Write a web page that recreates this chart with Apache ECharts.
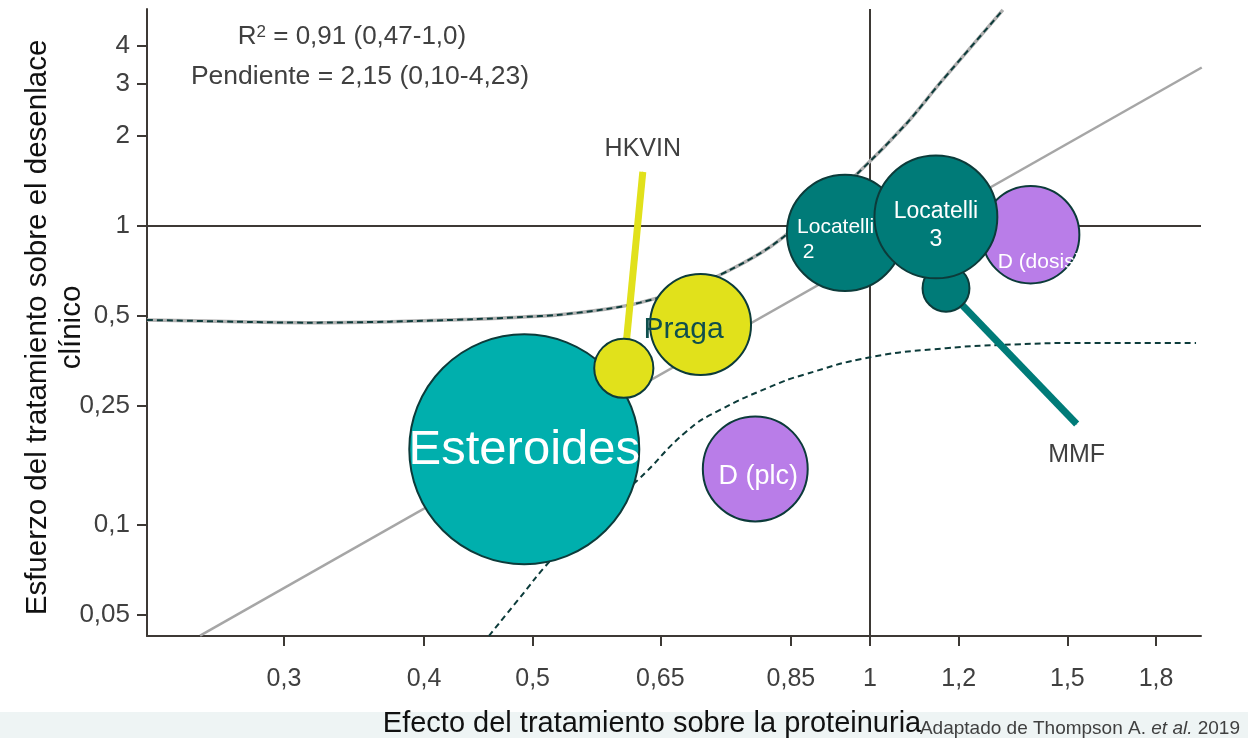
<!DOCTYPE html>
<html>
<head>
<meta charset="utf-8">
<title>Proteinuria vs desenlace clínico</title>
<script src="https://cdn.jsdelivr.net/npm/echarts@6/dist/echarts.min.js"></script>
<style>
    html, body { margin: 0; padding: 0; background: #fff; }
    #chart { width: 1248px; height: 738px; }
</style>
</head>
<body>
<div id="chart"></div>
<script>
// log axes, labelled like the slide (comma decimals)
const xTicks = [0.3, 0.4, 0.5, 0.65, 0.85, 1, 1.2, 1.5, 1.8];
const xTickLabels = ['0,3', '0,4', '0,5', '0,65', '0,85', '1', '1,2', '1,5', '1,8'];
const yTicks = [0.05, 0.1, 0.25, 0.5, 1, 2, 3, 4];
const yTickLabels = ['0,05', '0,1', '0,25', '0,5', '1', '2', '3', '4'];
const xRange = [0.2264, 1.974];
const yRange = [0.04246, 5.32];

// trials: effect on proteinuria (x), effect on clinical outcome (y), weight
const trialNames = ['Esteroides', 'HKVIN', 'Praga', 'D (plc)', 'D (dosis)', 'MMF', 'Locatelli 2', 'Locatelli 3'];
const trialX = [0.4915, 0.603, 0.706, 0.790, 1.391, 1.169, 0.950, 1.145];
const trialY = [0.179, 0.334, 0.468, 0.1538, 0.935, 0.619, 0.948, 1.072];
const trialWeight = [529, 35, 102, 110, 95, 22, 135, 151];
const trialKind = ['steroid', 'yellow', 'yellow', 'purple', 'purple', 'teal', 'teal', 'teal'];
const trialLabels = ['Esteroides', '', 'Praga', 'D (plc)', 'D (dosis)', '', 'Locatelli\n 2', 'Locatelli\n3'];

// regression line and its band
const regLine = [[0.2525, 0.0426], [1.977, 3.39]];
const upperBand = [
    [0.2264, 0.4847], [0.2797, 0.4773], [0.3145, 0.4747], [0.373, 0.4784],
    [0.4423, 0.4873], [0.4902, 0.4961], [0.5257, 0.5037], [0.5825, 0.5276],
    [0.6234, 0.5538], [0.6909, 0.6202], [0.75, 0.7125], [0.8143, 0.8506],
    [0.884, 1.088], [0.9756, 1.504], [1.079, 2.211], [1.155, 3.009], [1.314, 5.28]
];
const lowerBand = [
    [0.4571, 0.04248], [0.4852, 0.05605], [0.5192, 0.07628], [0.5625, 0.1038],
    [0.6192, 0.1402], [0.6866, 0.2061], [0.7348, 0.2423], [0.8143, 0.2893],
    [0.8714, 0.3173], [1.004, 0.3645], [1.169, 0.3898], [1.306, 0.3998],
    [1.568, 0.406], [1.954, 0.406]
];
const hkvinLine = [[0.603, 0.334], [0.627, 1.516]];
const mmfLine = [[1.169, 0.619], [1.529, 0.2175]];
const refX = 1;
const refY = 1;

const font = "'Liberation Sans', Arial, sans-serif";
const axisColor = '#3d3935';
const textColor = '#404040';
const borderColor = '#0c3b3a';
const kindColor = {steroid: '#00afad', yellow: '#e1e11b', purple: '#b97de8', teal: '#007b78'};
const labelStyle = {
    'Esteroides': {fontSize: 49, color: '#fff', offset: [0, 1]},
    'Praga': {fontSize: 30, color: '#0f4f4d', offset: [-17, 5]},
    'D (plc)': {fontSize: 27, color: '#fff', offset: [3, 8]},
    'D (dosis)': {fontSize: 21, color: '#fff', align: 'left', offset: [-33, 28]},
    'Locatelli 2': {fontSize: 21, color: '#fff', align: 'left', offset: [-48, 7], lineHeight: 25},
    'Locatelli 3': {fontSize: 23, color: '#fff', offset: [0, 9], lineHeight: 28}
};

const ln = Math.log;
const pt = (p) => [ln(p[0]), ln(p[1])];

function tickLabel(ticks, labels, v) {
    const i = ticks.findIndex((t) => Math.abs(ln(t) - v) < 1e-6);
    return i < 0 ? '' : labels[i];
}

function bubbles(filter) {
    return trialNames.map((name, i) => {
        if (!filter(name)) return null;
        const st = labelStyle[name];
        return {
            name,
            value: [ln(trialX[i]), ln(trialY[i]), trialWeight[i]],
            itemStyle: {color: kindColor[trialKind[i]]},
            label: st ? Object.assign({
                show: true,
                position: 'inside',
                formatter: trialLabels[i],
                fontFamily: font
            }, st) : {show: false}
        };
    }).filter(Boolean);
}

const isLocatelli = (n) => n.indexOf('Locatelli') === 0;

const chart = echarts.init(document.getElementById('chart'), null, {renderer: 'canvas'});

chart.setOption({
    animation: false,
    grid: {left: 147, right: 47, top: 9, bottom: 102, outerBoundsMode: 'none'},
    xAxis: {
        type: 'value',
        min: ln(xRange[0]),
        max: ln(xRange[1]),
        axisLine: {onZero: false, lineStyle: {color: axisColor, width: 2}},
        axisTick: {show: true, length: 10, customValues: xTicks.map(ln), lineStyle: {color: axisColor, width: 2}},
        axisLabel: {
            customValues: xTicks.map(ln),
            formatter: (v) => tickLabel(xTicks, xTickLabels, v),
            color: textColor, fontSize: 25, fontFamily: font, margin: 31
        },
        splitLine: {show: false},
        name: 'Efecto del tratamiento sobre la proteinuria',
        nameLocation: 'middle',
        nameGap: 73,
        nameMoveOverlap: false,
        nameTextStyle: {color: '#111', fontSize: 29, fontFamily: font, padding: [0, 44, 0, 0]}
    },
    yAxis: {
        type: 'value',
        min: ln(yRange[0]),
        max: ln(yRange[1]),
        axisLine: {show: true, onZero: false, lineStyle: {color: axisColor, width: 2}},
        axisTick: {show: true, length: 10, customValues: yTicks.map(ln), lineStyle: {color: axisColor, width: 2}},
        axisLabel: {
            customValues: yTicks.map(ln),
            formatter: (v) => tickLabel(yTicks, yTickLabels, v),
            color: textColor, fontSize: 26, fontFamily: font, margin: 17
        },
        splitLine: {show: false},
        name: 'Esfuerzo del tratamiento sobre el desenlace\nclínico',
        nameLocation: 'middle',
        nameGap: 58,
        nameMoveOverlap: false,
        nameTextStyle: {color: '#111', fontSize: 29.5, lineHeight: 34, fontFamily: font, padding: [0, 10, 0, 0]}
    },
    graphic: [
        {
            type: 'rect', silent: true, z: -10,
            shape: {x: 0, y: 712, width: 1248, height: 26},
            style: {fill: '#eef4f4'}
        },
        {
            type: 'text', silent: true,
            style: {
                x: 352, y: 37, align: 'center', verticalAlign: 'middle',
                text: 'R{sup|2} = 0,91 (0,47-1,0)',
                font: '26px ' + font, fill: textColor,
                rich: {sup: {fontSize: 17, verticalAlign: 'top', fill: textColor, fontFamily: font}}
            }
        },
        {
            type: 'text', silent: true,
            style: {
                x: 360, y: 77, align: 'center', verticalAlign: 'middle',
                text: 'Pendiente = 2,15 (0,10-4,23)',
                font: '26.5px ' + font, fill: textColor
            }
        },
        {
            type: 'text', silent: true,
            style: {
                x: 1240, y: 738, align: 'right', verticalAlign: 'bottom',
                text: 'Adaptado de Thompson A. {it|et al.} 2019',
                font: '19px ' + font, fill: textColor,
                rich: {it: {fontStyle: 'italic', fontSize: 19, fill: textColor, fontFamily: font}}
            }
        }
    ],
    series: [
        {
            // reference lines at 1 on both axes, kept under everything
            type: 'line',
            z: 1,
            data: [],
            silent: true,
            markLine: {
                z: 1,
                silent: true,
                symbol: 'none',
                label: {show: false},
                lineStyle: {color: axisColor, width: 2, type: 'solid'},
                data: [{xAxis: ln(refX)}, {yAxis: ln(refY)}]
            }
        },
        {
            type: 'line',
            data: regLine.map(pt),
            symbol: 'none',
            lineStyle: {color: '#a6a6a6', width: 2.5},
            silent: true
        },
        {
            type: 'line',
            data: upperBand.map(pt),
            symbol: 'none',
            smooth: 0.3,
            lineStyle: {color: '#b0b0b0', width: 3.5},
            silent: true
        },
        {
            type: 'line',
            data: upperBand.map(pt),
            symbol: 'none',
            smooth: 0.3,
            lineStyle: {color: borderColor, width: 2, type: [6, 4]},
            silent: true
        },
        {
            type: 'line',
            data: lowerBand.map(pt),
            symbol: 'none',
            smooth: 0.5,
            lineStyle: {color: borderColor, width: 2, type: [6, 4]},
            silent: true
        },
        {
            type: 'line',
            data: hkvinLine.map((p, i) => ({
                value: pt(p),
                label: i === 1 ? {show: true, position: 'top', distance: 10, formatter: 'HKVIN',
                    color: textColor, fontSize: 25, fontFamily: font} : {show: false}
            })),
            symbol: 'circle',
            symbolSize: 1,
            itemStyle: {color: kindColor.yellow},
            lineStyle: {color: kindColor.yellow, width: 7, cap: 'butt'},
            silent: true
        },
        {
            type: 'line',
            data: mmfLine.map((p, i) => ({
                value: pt(p),
                label: i === 1 ? {show: true, position: 'bottom', distance: 18, formatter: 'MMF',
                    color: textColor, fontSize: 25, fontFamily: font} : {show: false}
            })),
            symbol: 'circle',
            symbolSize: 1,
            itemStyle: {color: kindColor.teal},
            lineStyle: {color: kindColor.teal, width: 7, cap: 'butt'},
            silent: true
        },
        {
            type: 'scatter',
            z: 3,
            data: bubbles((n) => !isLocatelli(n)),
            symbolSize: (v) => Math.sqrt(v[2]) * 10,
            itemStyle: {borderColor, borderWidth: 2, opacity: 1},
            emphasis: {disabled: true},
            silent: true
        },
        {
            type: 'scatter',
            z: 4,
            data: bubbles(isLocatelli),
            symbolSize: (v) => Math.sqrt(v[2]) * 10,
            itemStyle: {borderColor, borderWidth: 2, opacity: 1},
            emphasis: {disabled: true},
            silent: true
        }
    ]
});
</script>
</body>
</html>
